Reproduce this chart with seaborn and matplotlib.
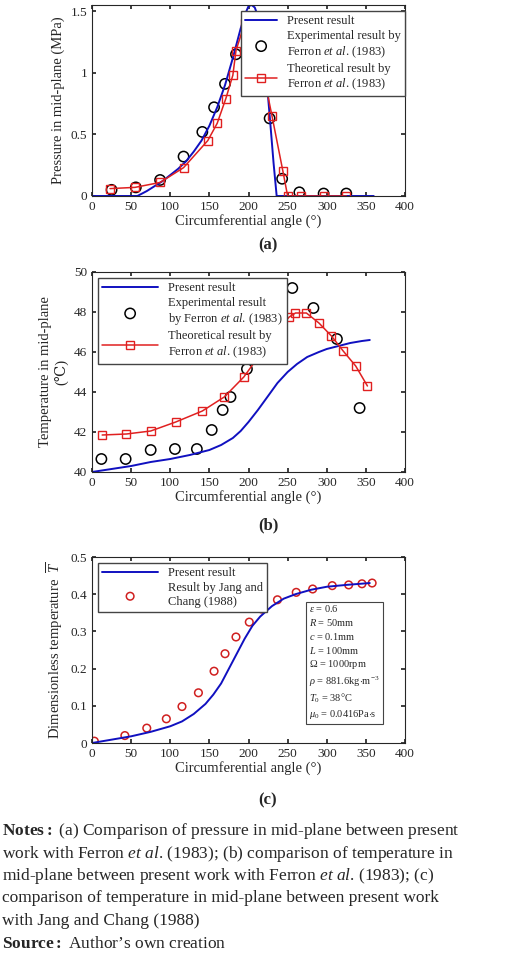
import matplotlib
matplotlib.use("Agg")
import matplotlib.pyplot as plt
import seaborn as sns

sns.set_theme(style="ticks")
plt.rcParams['font.family'] = ['Liberation Serif', 'DejaVu Serif']
plt.rcParams['mathtext.fontset'] = 'custom'
plt.rcParams['mathtext.rm'] = 'Liberation Serif'
plt.rcParams['mathtext.it'] = 'Liberation Serif:italic'
plt.rcParams['mathtext.bf'] = 'Liberation Serif:bold'

# (a) pressure
pa_x = [0, 58, 70, 80, 90, 100, 110, 120, 130, 140, 150, 160, 170, 180, 190, 196, 200, 204, 208, 212, 216, 220, 224, 228, 232, 236, 250, 360]
pa_y = [0, 0, 0.04, 0.08, 0.12, 0.17, 0.22, 0.28, 0.36, 0.45, 0.57, 0.72, 0.90, 1.12, 1.36, 1.48, 1.54, 1.55, 1.53, 1.46, 1.33, 1.13, 0.88, 0.58, 0.27, 0, 0, 0]
ea_x = [25, 56, 87, 117, 141, 156, 170, 184, 200, 212, 227, 243, 265, 296, 325]
ea_y = [0.05, 0.07, 0.13, 0.32, 0.52, 0.72, 0.91, 1.15, 1.25, 1.09, 0.63, 0.14, 0.03, 0.02, 0.02]
ta_x = [23, 55, 87, 117, 148, 160, 171, 180, 184, 195, 202, 210, 216, 230, 244, 250, 267, 296, 325]
ta_y = [0.06, 0.07, 0.11, 0.23, 0.45, 0.59, 0.79, 0.98, 1.18, 1.40, 1.45, 1.31, 1.09, 0.65, 0.2, 0.0, 0.0, 0.0, 0.0]

# (b) temperature
pb_x = [0, 25, 50, 75, 100, 125, 150, 165, 180, 190, 200, 212, 225, 237, 250, 262, 275, 290, 300, 315, 330, 345, 355]
pb_y = [40.0, 40.15, 40.3, 40.5, 40.65, 40.85, 41.1, 41.35, 41.7, 42.05, 42.5, 43.1, 43.8, 44.45, 45.0, 45.4, 45.75, 46.0, 46.15, 46.3, 46.45, 46.55, 46.6]
eb_x = [12, 43, 75, 106, 134, 153, 167, 177, 198, 206, 221, 237, 256, 283, 313, 342]
eb_y = [40.65, 40.65, 41.1, 41.15, 41.15, 42.1, 43.1, 43.75, 45.15, 46.1, 47.2, 48.15, 49.2, 48.2, 46.65, 43.2]
tb_x = [13, 44, 75, 107, 141, 169, 194, 218, 238, 252, 260, 274, 290, 306, 321, 337, 352]
tb_y = [41.85, 41.9, 42.05, 42.5, 43.05, 43.75, 44.75, 46.05, 47.1, 47.75, 47.95, 47.95, 47.45, 46.8, 46.05, 45.3, 44.3]

# (c) dimensionless temperature
pc_x = [0, 25, 50, 75, 100, 115, 130, 145, 155, 165, 175, 185, 195, 205, 215, 230, 245, 260, 280, 300, 325, 355]
pc_y = [0.0, 0.009, 0.018, 0.03, 0.045, 0.058, 0.078, 0.105, 0.13, 0.16, 0.2, 0.24, 0.28, 0.315, 0.34, 0.368, 0.388, 0.4, 0.412, 0.42, 0.425, 0.43]
jc_x = [3, 42, 70, 95, 115, 136, 156, 170, 184, 201, 217, 237, 261, 282, 307, 328, 345, 358]
jc_y = [0.005, 0.02, 0.04, 0.065, 0.098, 0.135, 0.193, 0.24, 0.285, 0.325, 0.36, 0.385, 0.405, 0.414, 0.423, 0.425, 0.428, 0.43]

W, H = 520, 973
fig = plt.figure(figsize=(W/100, H/100), dpi=100)

def ax_at(l, t, r, b):
    return fig.add_axes([l/W, 1-b/H, (r-l)/W, (b-t)/H])

tick_fs = 9.5
def style(ax):
    ax.tick_params(direction='in', labelsize=tick_fs, length=3, top=True, right=True)
    for s in ax.spines.values():
        s.set_linewidth(0.8)
    ax.set_xticks(range(0, 401, 50))
    ax.set_xlim(0, 400)
    ax.set_xlabel('Circumferential angle (°)', fontsize=10.5, labelpad=1)

leg_kw = dict(fontsize=9, frameon=True, fancybox=False, edgecolor='#444444',
              borderpad=0.3, labelspacing=0.25, framealpha=1)

ax1 = ax_at(92, 5, 405, 196)
sns.lineplot(x=pa_x, y=pa_y, ax=ax1, color='#1010c0', lw=1.4, label='Present result')
sns.scatterplot(x=ea_x, y=ea_y, ax=ax1, marker='o', s=55, facecolor='none', edgecolor='black', linewidth=1.1,
                label='Experimental result by\nFerron $\\it{et\\ al}$. (1983)')
ax1.plot(ta_x, ta_y, color='#e02020', lw=1.1, marker='s', ms=6, mfc='none', mec='#e02020',
         label='Theoretical result by\nFerron $\\it{et\\ al}$. (1983)')
ax1.set_ylim(0, 1.55)
ax1.set_yticks([0, 0.5, 1, 1.5])
ax1.set_yticklabels(['0', '0.5', '1', '1.5'])
ax1.set_ylabel('Pressure in mid-plane (MPa)', fontsize=10.5)
style(ax1)
ax1.legend(loc='upper right', bbox_to_anchor=(1.02, 1.0), handlelength=2.6, **leg_kw)

ax2 = ax_at(92, 272, 405, 472)
sns.lineplot(x=pb_x, y=pb_y, ax=ax2, color='#1010c0', lw=1.4, label='Present result')
sns.scatterplot(x=eb_x, y=eb_y, ax=ax2, marker='o', s=55, facecolor='none', edgecolor='black', linewidth=1.1,
                label='Experimental result\nby Ferron $\\it{et\\ al}$. (1983)')
ax2.plot(tb_x, tb_y, color='#e02020', lw=1.1, marker='s', ms=6, mfc='none', mec='#e02020',
         label='Theoretical result by\nFerron $\\it{et\\ al}$. (1983)')
ax2.set_ylim(40, 50)
ax2.set_yticks(range(40, 51, 2))
ax2.set_ylabel('Temperature in mid-plane\n(℃)', fontsize=10.5)
style(ax2)
ax2.legend(loc='upper left', handlelength=4.5, **leg_kw)

ax3 = ax_at(92, 557, 405, 743)
sns.lineplot(x=pc_x, y=pc_y, ax=ax3, color='#1010c0', lw=1.4, label='Present result')
sns.scatterplot(x=jc_x, y=jc_y, ax=ax3, marker='o', s=30, facecolor='none', edgecolor='#d02020', linewidth=1.1,
                label='Result by Jang and\nChang (1988)')
ax3.set_ylim(0, 0.5)
ax3.set_yticks([0, 0.1, 0.2, 0.3, 0.4, 0.5])
ax3.set_yticklabels(['0', '0.1', '0.2', '0.3', '0.4', '0.5'])
ax3.set_ylabel('Dimensionless temperature  $\\overline{T}$', fontsize=10.5)
style(ax3)
ax3.legend(loc='upper left', handlelength=4.5, **leg_kw)
params = ('$\\varepsilon$ = 0.6\n$R$ = 50mm\n$c$ = 0.1mm\n$L$ = 100mm\n$\\Omega$ = 1000rpm\n'
          '$\\rho$ = 881.6kg$\\cdot$m$^{-3}$\n$T_0$ = 38°C\n$\\mu_0$ = 0.0416Pa$\\cdot$s')
ax3.text(0.693, 0.75, params, transform=ax3.transAxes, fontsize=7.5, va='top', ha='left', linespacing=1.3,
         bbox=dict(boxstyle='square,pad=0.3', fc='white', ec='#444444', lw=0.8))

for y, lab in [(245, '(a)'), (525, '(b)'), (800, '(c)')]:
    fig.text(268/W, 1-y/H, lab, fontsize=12, fontweight='bold', ha='center', va='center')

note_lines = [
    r'$\bf{Notes:}$ (a) Comparison of pressure in mid-plane between present',
    r'work with Ferron $\it{et\ al}$. (1983); (b) comparison of temperature in',
    r'mid-plane between present work with Ferron $\it{et\ al}$. (1983); (c)',
    'comparison of temperature in mid-plane between present work',
    'with Jang and Chang (1988)',
    r'$\bf{Source:}$ Author’s own creation',
]
for i, line in enumerate(note_lines):
    fig.text(2/W, 1-(831 + i*22.5)/H, line, fontsize=12.5, va='center', ha='left')

fig.savefig('out.png', dpi=100)
